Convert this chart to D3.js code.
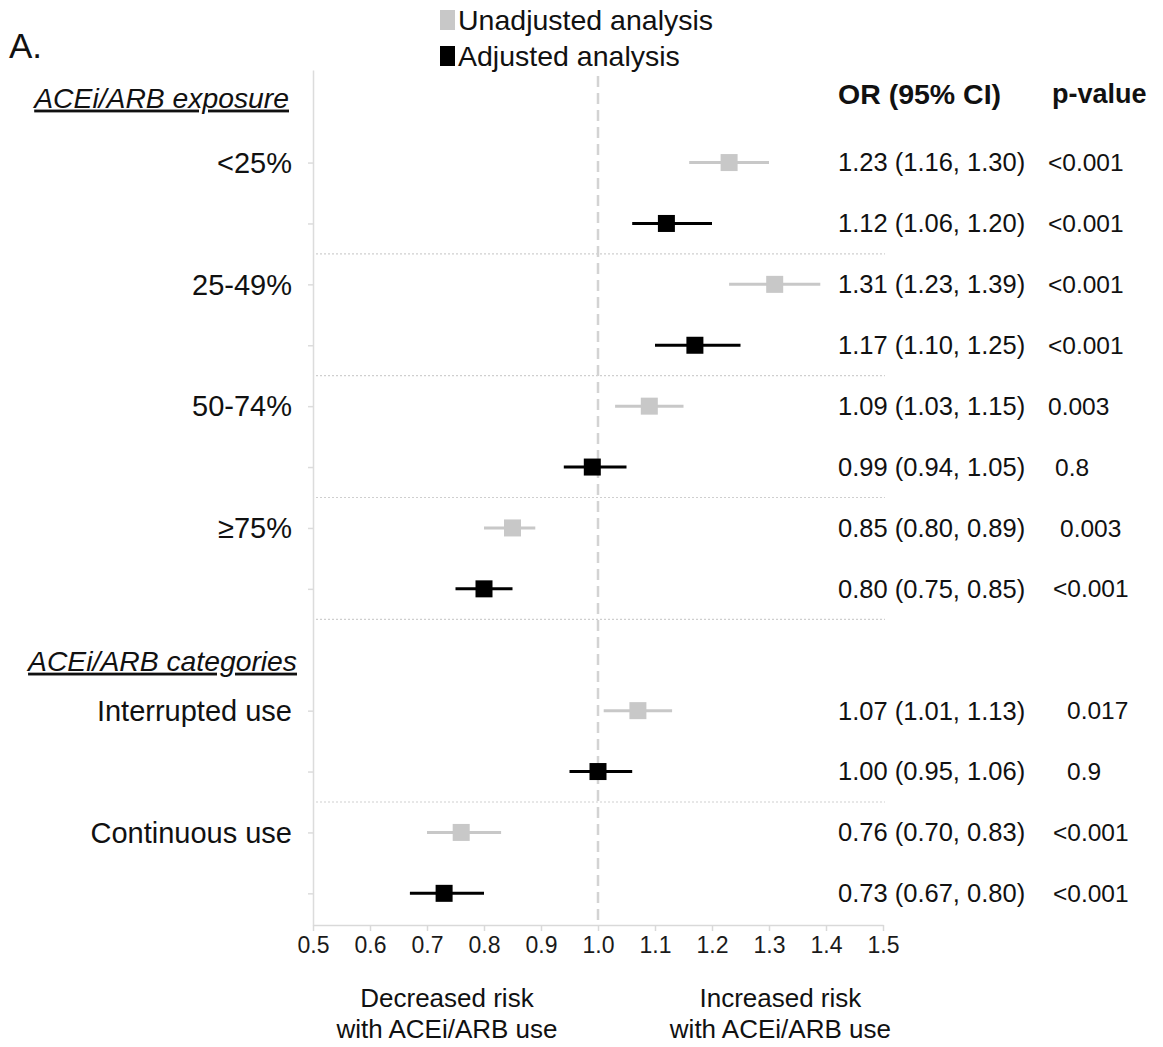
<!DOCTYPE html>
<html>
<head>
<meta charset="utf-8">
<script src="https://cdn.jsdelivr.net/npm/d3@7"></script>
<style>
  body { margin: 0; background: #fff; }
  svg { font-family: 'Liberation Sans', Arial, sans-serif; }
</style>
</head>
<body>
<div id="forest"></div>
<script>
// values
const sections = ['ACEi/ARB exposure', 'ACEi/ARB categories']
const groups = ['<25%', '25-49%', '50-74%', '≥75%', 'Interrupted use', 'Continuous use']
const groupSection = [0, 0, 0, 0, 1, 1]
const unadjOR = [1.23, 1.31, 1.09, 0.85, 1.07, 0.76]
const unadjLo = [1.16, 1.23, 1.03, 0.80, 1.01, 0.70]
const unadjHi = [1.30, 1.39, 1.15, 0.89, 1.13, 0.83]
const unadjP = ['<0.001', '<0.001', '0.003', '0.003', '0.017', '<0.001']
const adjOR = [1.12, 1.17, 0.99, 0.80, 1.00, 0.73]
const adjLo = [1.06, 1.10, 0.94, 0.75, 0.95, 0.67]
const adjHi = [1.20, 1.25, 1.05, 0.85, 1.06, 0.80]
const adjP = ['<0.001', '<0.001', '0.8', '<0.001', '0.9', '<0.001']
const seriesNames = ['Unadjusted analysis', 'Adjusted analysis']
const xTicks = [0.5, 0.6, 0.7, 0.8, 0.9, 1.0, 1.1, 1.2, 1.3, 1.4, 1.5]

const width = 1163
const height = 1047
const colors = ['#c8c8c8', '#000000']
// small per-row nudges of the p-value column, as laid out in the figure
const pIndent = [0, 0, 0, 0, 0, 7, 12, 5, 19, 19, 5, 5]

// build the row slots: a header before each section, then two rows per group
const slots = []
const rows = []
const fmt = d3.format('.2f')
groups.forEach((g, i) => {
  const sec = groupSection[i]
  if (i === 0 || groupSection[i - 1] !== sec) slots.push('h' + sec)
  ;[0, 1].forEach(s => {
    const key = 'g' + i + 's' + s
    slots.push(key)
    const or = s === 0 ? unadjOR[i] : adjOR[i]
    const lo = s === 0 ? unadjLo[i] : adjLo[i]
    const hi = s === 0 ? unadjHi[i] : adjHi[i]
    rows.push({
      key, group: i, series: s, or, lo, hi,
      p: s === 0 ? unadjP[i] : adjP[i],
      text: `${fmt(or)} (${fmt(lo)}, ${fmt(hi)})`
    })
  })
})

const svg = d3.select('#forest')
  .append('svg')
  .attr('width', width)
  .attr('height', height)

const x = d3.scaleLinear().domain([0.5, 1.5]).range([313, 883])
const y = d3.scalePoint().domain(slots).range([70, 925]).padding(0.52)

// x axis
const xAxis = svg.append('g')
  .attr('transform', 'translate(0,925)')
  .call(d3.axisBottom(x).tickValues(xTicks).tickFormat(d3.format('.1f')).tickSize(6).tickSizeOuter(0).tickPadding(6))
xAxis.select('.domain').attr('stroke', '#d9d9d9').attr('stroke-width', 1.5)
xAxis.selectAll('.tick line').attr('stroke', '#d9d9d9').attr('stroke-width', 1.5)
xAxis.selectAll('.tick text')
  .attr('fill', '#1a1a1a')
  .style('font-size', '23px')
  .style('font-family', "'Liberation Sans', Arial, sans-serif")

// y axis
const yAxis = svg.append('g')
  .attr('transform', 'translate(313,0)')
  .call(d3.axisLeft(y).tickValues(rows.map(r => r.key)).tickFormat('').tickSize(5).tickSizeOuter(0))
yAxis.select('.domain').attr('stroke', '#dcdcdc').attr('stroke-width', 1.5)
yAxis.selectAll('.tick line').attr('stroke', '#dcdcdc').attr('stroke-width', 1.5)

// dotted separators between the groups
const seps = d3.range(groups.length - 1).map(i => {
  const a = y('g' + i + 's1')
  const b = slots[slots.indexOf('g' + i + 's1') + 1]
  return (a + y(b)) / 2
})
svg.append('g').selectAll('line').data(seps).enter().append('line')
  .attr('x1', 316).attr('x2', 885)
  .attr('y1', d => d).attr('y2', d => d)
  .attr('stroke', '#cfcfcf')
  .attr('stroke-width', 1.2)
  .attr('stroke-dasharray', '2,2')

// reference line at OR = 1
svg.append('line')
  .attr('x1', x(1)).attr('x2', x(1))
  .attr('y1', 76).attr('y2', 925)
  .attr('stroke', '#d3d3d3')
  .attr('stroke-width', 2.5)
  .attr('stroke-dasharray', '11,6')

// CI lines and squares
const marks = svg.append('g').selectAll('g').data(rows).enter().append('g')
marks.append('line')
  .attr('x1', d => x(d.lo)).attr('x2', d => x(d.hi))
  .attr('y1', d => y(d.key)).attr('y2', d => y(d.key))
  .attr('stroke', d => colors[d.series])
  .attr('stroke-width', 3)
marks.append('rect')
  .attr('x', d => x(d.or) - 8.5)
  .attr('y', d => y(d.key) - 8.5)
  .attr('width', 17)
  .attr('height', 17)
  .attr('fill', d => colors[d.series])

// left labels
svg.append('g').selectAll('text').data(groups).enter().append('text')
  .attr('x', 292)
  .attr('y', (d, i) => y('g' + i + 's0'))
  .attr('dy', '0.35em')
  .attr('text-anchor', 'end')
  .style('font-size', '29px')
  .attr('fill', '#111')
  .text(d => d)

const headerRight = [289, 297]
const headerDy = [-4, 11]
svg.append('g').selectAll('text').data(sections).enter().append('text')
  .attr('x', (d, i) => headerRight[i])
  .attr('y', (d, i) => y('h' + i) + headerDy[i])
  .attr('dy', '0.35em')
  .attr('text-anchor', 'end')
  .style('font-size', '28.3px')
  .style('font-style', 'italic')
  .style('text-decoration', 'underline')
  .attr('fill', '#111')
  .text(d => d)

// OR and p-value columns
svg.append('text').attr('x', 838).attr('y', 94).attr('dy', '0.35em')
  .style('font-size', '28.5px').style('font-weight', 'bold').attr('fill', '#111')
  .text('OR (95% CI)')
svg.append('text').attr('x', 1052).attr('y', 94).attr('dy', '0.35em')
  .style('font-size', '27px').style('font-weight', 'bold').attr('fill', '#111')
  .text('p-value')

svg.append('g').selectAll('text').data(rows).enter().append('text')
  .attr('x', 838)
  .attr('y', d => y(d.key))
  .attr('dy', '0.35em')
  .style('font-size', '25.5px')
  .attr('fill', '#111')
  .text(d => d.text)

svg.append('g').selectAll('text').data(rows).enter().append('text')
  .attr('x', (d, i) => 1048 + pIndent[i])
  .attr('y', d => y(d.key))
  .attr('dy', '0.35em')
  .style('font-size', '24.5px')
  .attr('fill', '#111')
  .text(d => d.p)

// legend
const legend = svg.append('g').selectAll('g').data(seriesNames).enter().append('g')
  .attr('transform', (d, i) => `translate(440,${20 + i * 36})`)
legend.append('rect')
  .attr('x', 0).attr('y', -10).attr('width', 15).attr('height', 20)
  .attr('fill', (d, i) => colors[i])
legend.append('text')
  .attr('x', 18).attr('dy', '0.35em')
  .style('font-size', '28.5px')
  .attr('fill', '#111')
  .text(d => d)

// panel letter
svg.append('text').attr('x', 9).attr('y', 58)
  .style('font-size', '35px').attr('fill', '#111').text('A.')

// bottom direction labels
const bottomLabels = [['Decreased risk', 'with ACEi/ARB use'], ['Increased risk', 'with ACEi/ARB use']]
const bottomCenter = [0.735, 1.32]
svg.append('g').selectAll('text').data(bottomLabels).enter().append('text')
  .attr('x', (d, i) => x(bottomCenter[i]))
  .attr('y', 998)
  .attr('text-anchor', 'middle')
  .style('font-size', '26px')
  .attr('fill', '#111')
  .each(function (d, i) {
    d3.select(this).selectAll('tspan').data(d).enter().append('tspan')
      .attr('x', x(bottomCenter[i]))
      .attr('dy', (t, j) => j === 0 ? '0.35em' : '1.17em')
      .text(t => t)
  })
</script>
</body>
</html>
